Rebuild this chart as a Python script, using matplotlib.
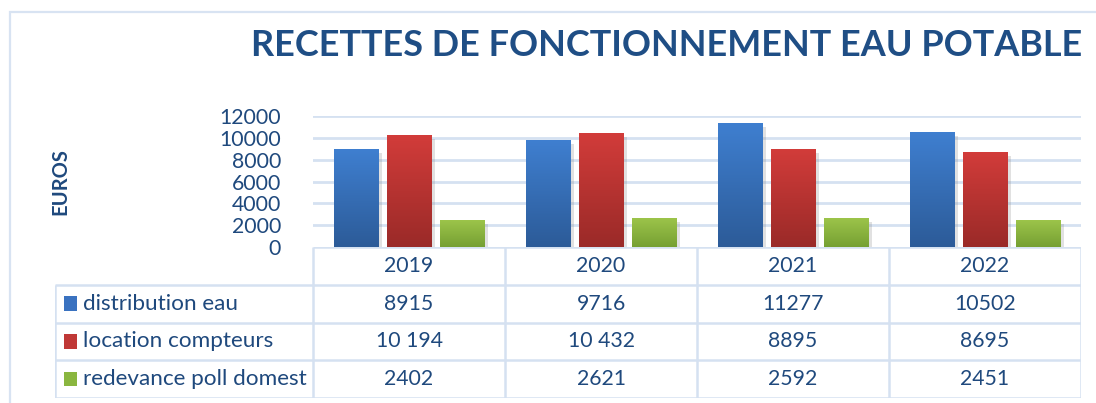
import numpy as np
import matplotlib
matplotlib.use("Agg")
import matplotlib.pyplot as plt
from matplotlib.patches import Rectangle
from matplotlib.colors import LinearSegmentedColormap
import matplotlib.patheffects as pe

# ---- data ----
years = ["2019", "2020", "2021", "2022"]
series_names = ["distribution eau", "location compteurs", "redevance poll domest"]
distribution_eau = [8915, 9716, 11277, 10502]
location_compteurs = [10194, 10432, 8895, 8695]
redevance_poll = [2402, 2621, 2592, 2451]
distribution_labels = ["8915", "9716", "11277", "10502"]
location_labels = ["10 194", "10 432", "8895", "8695"]
redevance_labels = ["2402", "2621", "2592", "2451"]
yticks = [0, 2000, 4000, 6000, 8000, 10000, 12000]

series = [distribution_eau, location_compteurs, redevance_poll]
labels = [distribution_labels, location_labels, redevance_labels]
top_colors = ["#3f7fd0", "#d23c3a", "#9cc44a"]
bot_colors = ["#2c5b98", "#9a2a28", "#76a033"]
solid_colors = ["#3a72c0", "#c03836", "#8ab63f"]

TXT = "#1f497d"
GRID = "#d5e1f1"
FONT = "Lato"
NUM_FS = 15.3
LBL_FS = 16.2

W, H = 1096, 403
fig = plt.figure(figsize=(W / 100, H / 100), dpi=100)
fig.patch.set_facecolor("white")

def fx(px):
    return px / W

def fy(py):
    return 1 - py / H

# outer border
fig.add_artist(Rectangle((fx(10), fy(420)), fx(1200) - fx(10), fy(12) - fy(420),
                         transform=fig.transFigure, fill=False, edgecolor="#d8e3f2",
                         lw=1.6, zorder=0))

# chart axes
L, R, T, B = 313, 1081, 116, 247
ax = fig.add_axes([fx(L), fy(B), fx(R) - fx(L), fy(T) - fy(B)])
for s in ax.spines.values():
    s.set_visible(False)
ax.set_xticks([])
ax.set_yticks(yticks)
ax.set_yticklabels([str(v) for v in yticks], fontsize=NUM_FS, color=TXT, family=FONT)
ax.tick_params(axis="y", length=0, pad=23)
for v in yticks[1:]:
    ax.axhline(v, color=GRID, lw=2.0, zorder=0)

x = np.arange(len(years))
bw = 0.23
off = 0.276
for i, vals in enumerate(series):
    bars = ax.bar(x + (i - 1) * off, vals, width=bw, color=solid_colors[i], zorder=2,
                  path_effects=[pe.SimplePatchShadow(offset=(2.5, -2.5), shadow_rgbFace="#888888", alpha=0.25), pe.Normal()])
    cmap = LinearSegmentedColormap.from_list("g%d" % i, [bot_colors[i], top_colors[i]])
    grad = np.linspace(0, 1, 256).reshape(-1, 1)
    for b in bars:
        x0, w_, h_ = b.get_x(), b.get_width(), b.get_height()
        ax.imshow(grad, cmap=cmap, origin="lower", aspect="auto",
                  extent=(x0, x0 + w_, 0, h_), zorder=3)
ax.set_xlim(-0.5, len(years) - 0.5)
ax.set_ylim(0, 12000)

# EUROS label
fig.text(fx(60), fy(182), "EUROS", rotation=90, ha="center", va="center",
         fontsize=14.5, fontweight="bold", color=TXT, family=FONT)

# title
fig.text(fx(667), fy(45), "RECETTES DE FONCTIONNEMENT EAU POTABLE", ha="center", va="center",
         fontsize=25.9, fontweight="bold", color="#1f4e85", family=FONT)

# data table
TL = 55
tab = fig.add_axes([fx(TL), fy(398), fx(R) - fx(TL), fy(B) - fy(398)])
cat_w = (R - L) / len(years)
left_units = (L - TL) / cat_w
tab.set_xlim(-0.5 - left_units, len(years) - 0.5)
tab.set_ylim(4, 0)
tab.axis("off")
lc = dict(color=GRID, lw=1.8, solid_capstyle="butt")
tab.plot([-0.5, len(years) - 0.5], [0, 0], **lc)
for r in range(1, 5):
    tab.plot([-0.5 - left_units, len(years) - 0.5], [r, r], **lc)
for c in range(len(years) + 1):
    tab.plot([c - 0.5, c - 0.5], [0, 4], **lc)
tab.plot([-0.5 - left_units] * 2, [1, 4], **lc)
for j, yr in enumerate(years):
    tab.text(j, 0.5, yr, ha="center", va="center", fontsize=NUM_FS, color=TXT, family=FONT)
for i, name in enumerate(series_names):
    yc = i + 1.5
    tab.text(-0.5 - left_units + 28 / cat_w, yc, name, ha="left", va="center",
             fontsize=LBL_FS, color=TXT, family=FONT)
    tab.add_patch(Rectangle((-0.5 - left_units + 9 / cat_w, yc - 0.19), 13 / cat_w, 0.38,
                            facecolor=solid_colors[i], edgecolor="none"))
    for j in range(len(years)):
        tab.text(j, yc, labels[i][j], ha="center", va="center", fontsize=NUM_FS,
                 color=TXT, family=FONT)

fig.savefig("out.png", dpi=100)
